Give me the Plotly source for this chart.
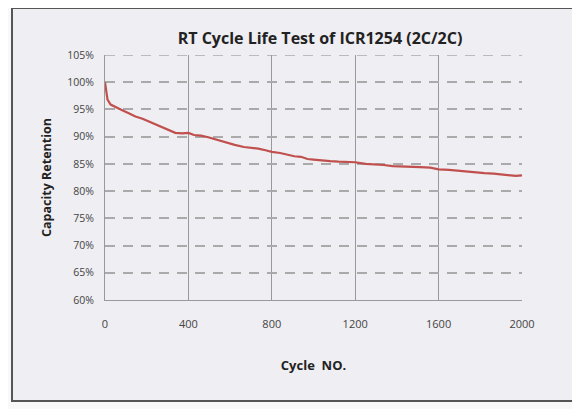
import plotly.graph_objects as go

# Data
cycles = [0, 5, 12, 27, 50, 80, 114, 146, 180, 210, 240, 273, 305, 337, 370, 400,
          427, 460, 495, 530, 559, 590, 622, 666, 700, 735, 770, 800, 840, 870, 908,
          940, 971, 1000, 1040, 1080, 1120, 1160, 1200, 1250, 1300, 1336, 1380, 1420,
          1464, 1510, 1560, 1600, 1650, 1700, 1736, 1780, 1820, 1864, 1900, 1940, 1970, 2000]
retention = [100.0, 98.2, 96.8, 95.9, 95.4, 94.9, 94.3, 93.7, 93.3, 92.8, 92.3, 91.7,
             91.1, 90.7, 90.6, 90.7, 90.3, 90.2, 89.9, 89.5, 89.2, 88.9, 88.5, 88.1,
             88.0, 87.8, 87.5, 87.2, 87.0, 86.7, 86.4, 86.3, 85.9, 85.8, 85.6, 85.5,
             85.4, 85.3, 85.3, 85.0, 84.9, 84.8, 84.6, 84.5, 84.4, 84.4, 84.3, 84.0,
             83.9, 83.7, 83.6, 83.5, 83.3, 83.2, 83.1, 83.0, 82.8, 82.9]

x_ticks = [0, 400, 800, 1200, 1600, 2000]
y_ticks = [60, 65, 70, 75, 80, 85, 90, 95, 100, 105]
y_tick_labels = [f"{v}%" for v in y_ticks]

title_text = "RT Cycle Life Test of ICR1254 (2C/2C)"
x_title = "Cycle  NO."
y_title = "Capacity Retention"

# page body has an 8px margin, so the figure is sized/offset accordingly
W, H = 572, 401
L, R, T, B = 97, 58, 47, 109
pw, ph = W - L - R, H - T - B

def px_to_paper_x(px):
    return (px - L) / pw

def px_to_paper_y(py):
    return (H - B - py) / ph

fig = go.Figure()
fig.add_trace(go.Scatter(
    x=cycles, y=retention, mode="lines",
    line=dict(color="#c0504d", width=2.2),
    showlegend=False,
))

font_family = "Open Sans, Lato, sans-serif"
grid_dash = "10px,8px"

fig.update_layout(
    width=W, height=H,
    margin=dict(l=L, r=R, t=T, b=B),
    paper_bgcolor="#f8f8f8",
    plot_bgcolor="rgba(0,0,0,0)",
    title=dict(text="<b>" + title_text + "</b>", x=312 / W,
               xanchor="center", y=1 - 30 / H, yanchor="middle",
               font=dict(family=font_family, size=16, color="#222222")),
    xaxis=dict(
        range=[0, 2000], tickvals=x_ticks, ticktext=[str(v) for v in x_ticks],
        showgrid=True, gridcolor="#999999", gridwidth=1,
        showline=True, linecolor="#999999", linewidth=1,
        zeroline=False, ticks="outside", ticklen=14, tickcolor="rgba(0,0,0,0)",
        tickfont=dict(family=font_family, size=11, color="#444444"),
        title=dict(text="<b>" + x_title + "</b>", standoff=30,
                   font=dict(family=font_family, size=13, color="#222222")),
    ),
    yaxis=dict(
        range=[60, 105], tickvals=y_ticks, ticktext=y_tick_labels,
        showgrid=True, gridcolor="#aaaaaa", gridwidth=1.5, griddash=grid_dash,
        showline=True, linecolor="#999999", linewidth=1,
        zeroline=False, ticks="outside", ticklen=8, tickcolor="rgba(0,0,0,0)",
        tickfont=dict(family=font_family, size=10.5, color="#444444"),
        title=dict(text="<b>" + y_title + "</b>", standoff=12,
                   font=dict(family=font_family, size=12.5, color="#222222")),
    ),
    shapes=[
        dict(
            type="rect", xref="paper", yref="paper", layer="below",
            x0=px_to_paper_x(4), x1=px_to_paper_x(565),
            y0=px_to_paper_y(393), y1=px_to_paper_y(0),
            fillcolor="#efeef2", line=dict(color="#555555", width=2),
        ),
        # top gridline at the range edge (Plotly hides it otherwise)
        dict(
            type="line", xref="paper", yref="y", layer="below",
            x0=0, x1=1, y0=y_ticks[-1], y1=y_ticks[-1],
            line=dict(color="#aaaaaa", width=1.5, dash=grid_dash),
        ),
    ],
)

fig.write_html("out.html")
